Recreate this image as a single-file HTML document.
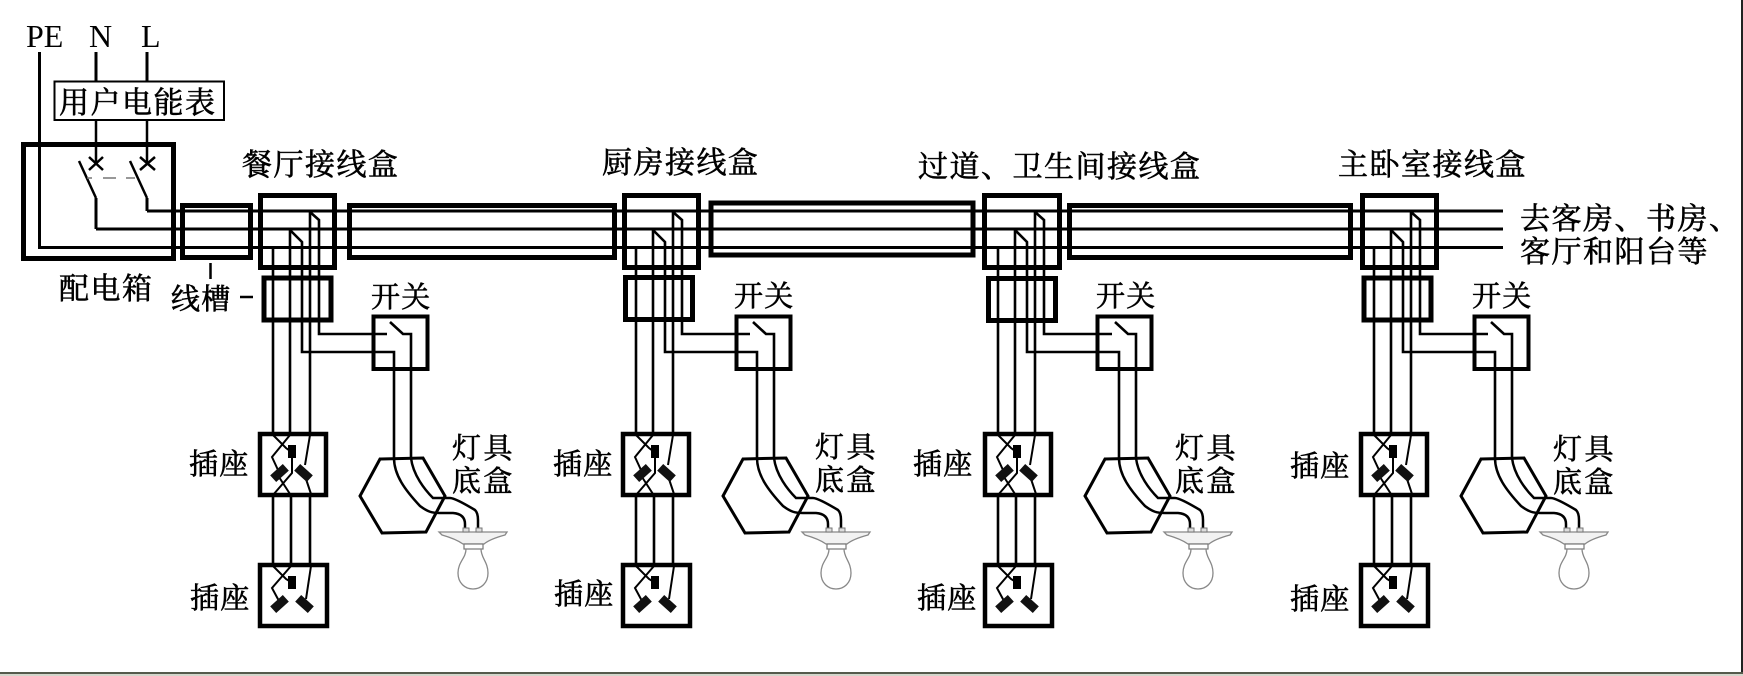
<!DOCTYPE html>
<html><head><meta charset="utf-8"><style>
html,body{margin:0;padding:0;background:#fff;width:1743px;height:676px;overflow:hidden}
svg{display:block}
text{font-family:"Liberation Serif","Noto Serif CJK SC",serif;fill:#000}
.c{font-size:30px;letter-spacing:1.500px;stroke:#000;stroke-width:.6px}
.s{font-size:29px;letter-spacing:1.300px;stroke:#000;stroke-width:.6px}
.l{font-size:32px}
</style></head><body>
<svg width="1743" height="676" viewBox="0 0 1743 676" xmlns="http://www.w3.org/2000/svg">
<defs>
<g id="sock1" fill="none" stroke="#000">
<rect x="260" y="434" width="66" height="61" stroke-width="4.500" fill="#fff"/>
<path stroke-width="2" d="M273 435L286 448L290 451M290 435L272 457L278 470M310 435L305 465M305 476L311 494M292 457V473L273 495M279 477L290 494"/>
<rect x="288" y="445" width="8" height="13" fill="#000" stroke="none"/>
<rect x="271" y="468.500" width="17" height="9" fill="#111" stroke="none" transform="rotate(-42 279.500 473)"/>
<rect x="295" y="468.500" width="17" height="9" fill="#111" stroke="none" transform="rotate(42 303.500 473)"/>
</g>
<g id="sock2" fill="none" stroke="#000">
<rect x="260" y="565" width="67" height="61" stroke-width="4.500" fill="#fff"/>
<path stroke-width="2" d="M273 566L286 579L291 582M291 566L272 588L279 601M311 566L306 599"/>
<rect x="288" y="576" width="8" height="13" fill="#000" stroke="none"/>
<rect x="271" y="599.500" width="17" height="9" fill="#111" stroke="none" transform="rotate(-42 279.500 604)"/>
<rect x="296" y="599.500" width="17" height="9" fill="#111" stroke="none" transform="rotate(42 304.500 604)"/>
</g>
<g id="mod" fill="none" stroke="#000">
<path stroke-width="2.600" d="M273 247V433M290 229V433M290 230L302 242V352H394V459M310 211V433M310 212L319 220V334H387M390 322L403 334H411V459M273 497V564M291 497V564M310 497V564"/>
<path stroke-width="3" d="M380 459L423 458L445 496L426 532L382 533L360 496Z"/>
<path stroke-width="2.500" d="M394 458C394 475 405 490 420 506C428 512 432 513 440 513H453Q465 514 465 524V529M411 458C413 475 425 490 433 498H450Q455 498 475 510Q478 513 478 520V529"/>
<path stroke="#888" stroke-width="1.300" fill="#f2f2f2" d="M439 532H507L505 535Q490 539 484 544H463Q456 539 442 535Z"/>
<rect x="463" y="528" width="6" height="4" fill="#ddd" stroke="#777"/>
<rect x="476" y="528" width="6" height="4" fill="#ddd" stroke="#777"/>
<rect x="464" y="544" width="19" height="5" fill="#fff" stroke="#777" stroke-width="1.200"/>
<path stroke="#888" stroke-width="1.300" d="M466 549C466 558 458 562 458 573C458 583 465 589 473 589C481 589 488 583 488 573C488 562 481 558 481 549"/>
<use href="#sock1"/>
<use href="#sock2"/>
</g>
</defs>

<rect x="0" y="0" width="1743" height="676" fill="#fff"/>

<!-- modules -->
<use href="#mod"/>
<use href="#mod" transform="translate(363 0)"/>
<use href="#mod" transform="translate(725 0)"/>
<use href="#mod" transform="translate(1101 0)"/>

<g fill="none" stroke="#000">
<!-- main wires -->
<path stroke-width="3" d="M39.500 52V247.500H1503M96 229V198M96 229H1503M147 211H1503M147 211V198"/>
<path stroke-width="3" d="M96 52V81M147 52V81"/>
<path stroke-width="2.500" d="M96 120V163M147 120V163"/>
<path stroke-width="2.500" d="M79 161L96 198M130 161L147 198M89 157L103 170M103 157L89 170M140 157L155 170M155 157L140 170"/>
<path stroke="#777" stroke-width="1.500" d="M87 178H92M103 178H116M126 178H135"/>
<rect x="54.500" y="81.500" width="169.500" height="38.500" stroke-width="2"/>
<!-- panel and ducts -->
<rect x="23.500" y="144.500" width="150" height="114" stroke-width="5"/>
<rect x="182.500" y="205.500" width="68" height="52" stroke-width="5"/>
<rect x="349.500" y="205.500" width="265" height="52" stroke-width="5"/>
<rect x="711" y="203" width="262" height="52" stroke-width="5"/>
<rect x="1069.500" y="205.500" width="281" height="52" stroke-width="5"/>
<!-- junction boxes -->
<rect x="260.500" y="195.500" width="74" height="72" stroke-width="5"/>
<rect x="624.500" y="195.500" width="74" height="72" stroke-width="5"/>
<rect x="984.500" y="195.500" width="75" height="72" stroke-width="5"/>
<rect x="1362.500" y="195.500" width="74" height="72" stroke-width="5"/>
<!-- small ducts -->
<rect x="264" y="278" width="67" height="42" stroke-width="5"/>
<rect x="625.500" y="277.500" width="67" height="42" stroke-width="5"/>
<rect x="988.500" y="278.500" width="67" height="42" stroke-width="5"/>
<rect x="1364" y="278" width="67" height="42" stroke-width="5"/>
<!-- switch boxes -->
<rect x="373.500" y="316.500" width="54" height="52.500" stroke-width="4"/>
<rect x="736.500" y="316.500" width="54" height="52.500" stroke-width="4"/>
<rect x="1097.500" y="316.500" width="54" height="52.500" stroke-width="4"/>
<rect x="1474.500" y="316.500" width="54" height="52.500" stroke-width="4"/>
<!-- tick marks -->
<path stroke-width="2.500" d="M210.500 263V279M240 297H253"/>
</g>

<!-- Latin labels -->
<text class="l" x="26" y="47">PE</text>
<text class="l" x="89" y="47">N</text>
<text class="l" x="141" y="47">L</text>

<!-- Chinese labels -->
<text class="c" x="59" y="113">用户电能表</text>
<text class="c" x="59" y="299">配电箱</text>
<text class="s" x="171" y="309">线槽</text>
<text class="c" x="242" y="175">餐厅接线盒</text>
<text class="c" x="602" y="173">厨房接线盒</text>
<text class="c" x="918" y="177">过道、卫生间接线盒</text>
<text class="c" x="1338" y="175">主卧室接线盒</text>
<text class="c" x="1520" y="229">去客房、书房、</text>
<text class="c" x="1520" y="262">客厅和阳台等</text>

<text class="s" x="371" y="307">开关</text>
<text class="s" x="734" y="306">开关</text>
<text class="s" x="1096" y="306">开关</text>
<text class="s" x="1472" y="306">开关</text>

<text class="s" x="189" y="474">插座</text>
<text class="s" x="190" y="608">插座</text>
<text class="s" x="553" y="474">插座</text>
<text class="s" x="554" y="604">插座</text>
<text class="s" x="913" y="474">插座</text>
<text class="s" x="917" y="608">插座</text>
<text class="s" x="1290" y="476">插座</text>
<text class="s" x="1290" y="609">插座</text>

<text class="s" x="452" y="458" style="letter-spacing:2.500px">灯具</text>
<text class="s" x="452" y="491" style="letter-spacing:2.500px">底盒</text>
<text class="s" x="815" y="457" style="letter-spacing:2.500px">灯具</text>
<text class="s" x="815" y="490" style="letter-spacing:2.500px">底盒</text>
<text class="s" x="1175" y="458" style="letter-spacing:2.500px">灯具</text>
<text class="s" x="1175" y="491" style="letter-spacing:2.500px">底盒</text>
<text class="s" x="1553" y="459" style="letter-spacing:2.500px">灯具</text>
<text class="s" x="1553" y="492" style="letter-spacing:2.500px">底盒</text>

<!-- frame edges -->
<rect x="1741" y="0" width="2" height="673" fill="#222"/>
<rect x="0" y="672" width="1743" height="2" fill="#555a4c"/>
<rect x="0" y="674" width="1743" height="2" fill="#d4d6cc"/>
</svg>
</body></html>
